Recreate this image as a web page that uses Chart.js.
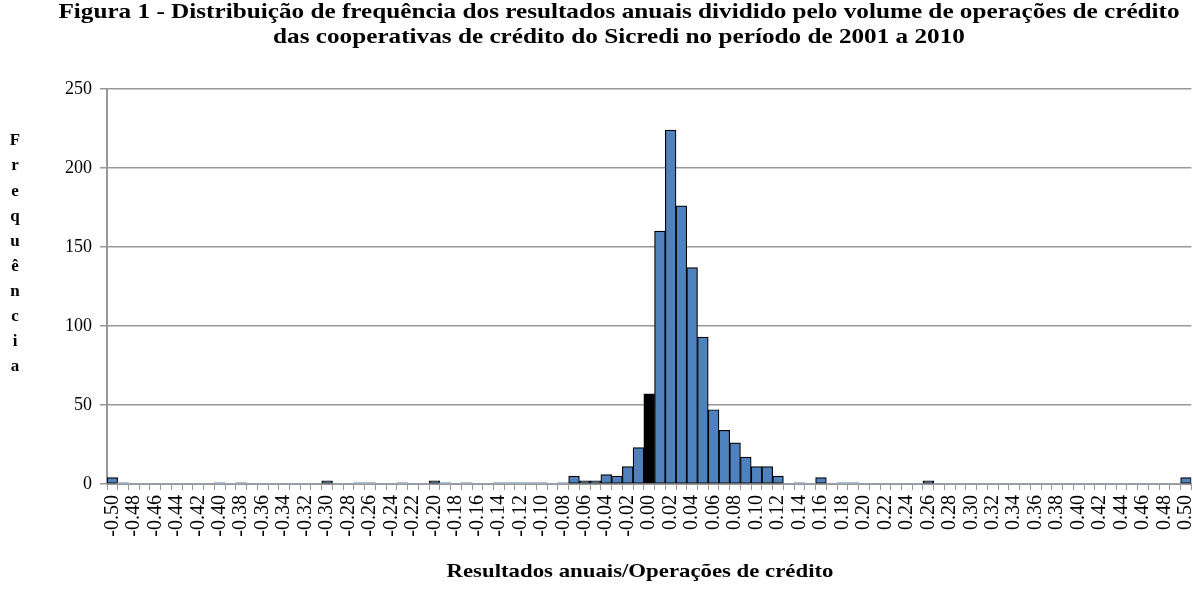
<!DOCTYPE html>
<html>
<head>
<meta charset="utf-8">
<title>Figura 1</title>
<script src="https://cdn.jsdelivr.net/npm/chart.js@4"></script>
<style>
  html, body { margin: 0; padding: 0; background: #fff; overflow: hidden; }
  #wrap { width: 1215px; height: 602px; }
</style>
</head>
<body>
<div id="wrap"><canvas id="hist"></canvas></div>
<script>
const titleLines = [
  'Figura 1 - Distribuição de frequência dos resultados anuais dividido pelo volume de operações de crédito',
  'das cooperativas de crédito do Sicredi no período de 2001 a 2010'
];
const xTitle = 'Resultados anuais/Operações de crédito';
const yTitle = 'Frequência';

// class centres (resultado / operações de crédito)
const classes = [
  '-0.50', '-0.49', '-0.48', '-0.47', '-0.46', '-0.45', '-0.44', '-0.43', '-0.42', '-0.41',
  '-0.40', '-0.39', '-0.38', '-0.37', '-0.36', '-0.35', '-0.34', '-0.33', '-0.32', '-0.31',
  '-0.30', '-0.29', '-0.28', '-0.27', '-0.26', '-0.25', '-0.24', '-0.23', '-0.22', '-0.21',
  '-0.20', '-0.19', '-0.18', '-0.17', '-0.16', '-0.15', '-0.14', '-0.13', '-0.12', '-0.11',
  '-0.10', '-0.09', '-0.08', '-0.07', '-0.06', '-0.05', '-0.04', '-0.03', '-0.02', '-0.01',
  '0.00', '0.01', '0.02', '0.03', '0.04', '0.05', '0.06', '0.07', '0.08', '0.09',
  '0.10', '0.11', '0.12', '0.13', '0.14', '0.15', '0.16', '0.17', '0.18', '0.19',
  '0.20', '0.21', '0.22', '0.23', '0.24', '0.25', '0.26', '0.27', '0.28', '0.29',
  '0.30', '0.31', '0.32', '0.33', '0.34', '0.35', '0.36', '0.37', '0.38', '0.39',
  '0.40', '0.41', '0.42', '0.43', '0.44', '0.45', '0.46', '0.47', '0.48', '0.49',
  '0.50'
];

const frequencia = [
  4, 1, 0, 0, 0, 0, 0, 0, 0, 0,
  1, 0, 1, 0, 0, 0, 0, 0, 0, 0,
  2, 0, 0, 1, 1, 0, 0, 1, 0, 0,
  2, 1, 0, 1, 0, 0, 1, 1, 1, 1,
  1, 0, 1, 5, 2, 2, 6, 5, 11, 23,
  57, 160, 224, 176, 137, 93, 47, 34, 26, 17,
  11, 11, 5, 0, 1, 0, 4, 0, 1, 1,
  0, 0, 0, 0, 0, 0, 2, 0, 0, 0,
  0, 0, 0, 0, 0, 0, 0, 0, 0, 0,
  0, 0, 0, 0, 0, 0, 0, 0, 0, 0,
  4
];

const yTicks = [0, 50, 100, 150, 200, 250];

const highlightClass = '0.00';

const barBlue = '#4f81bd';
const faintBlue = '#a9bedb';
const gridGray = '#989898';
const serif = '"Liberation Serif", "Times New Roman", serif';

// title, x-axis caption and the stacked y-axis label, drawn on the canvas
// (the source figure is a bit wider than tall, hence the x stretch)
const figureText = {
  id: 'figureText',
  afterDraw(chart) {
    const ctx = chart.ctx;
    ctx.save();
    ctx.fillStyle = '#000';
    ctx.textAlign = 'center';
    ctx.textBaseline = 'middle';

    ctx.save();
    ctx.translate(619, 0);
    ctx.scale(1.2, 1);
    ctx.font = 'bold 21px ' + serif;
    ctx.fillText(titleLines[0], 0, 13);
    ctx.fillText(titleLines[1], 0, 38);
    ctx.restore();

    ctx.save();
    ctx.translate(640, 572);
    ctx.scale(1.2, 1);
    ctx.font = 'bold 19px ' + serif;
    ctx.fillText(xTitle, 0, 0);
    ctx.restore();

    ctx.font = 'bold 17px ' + serif;
    Array.from(yTitle).forEach((ch, i) => {
      ctx.fillText(ch, 15, 141 + i * 25.1);
    });
    ctx.restore();
  }
};

const ctx = document.getElementById('hist').getContext('2d');
new Chart(ctx, {
  type: 'bar',
  data: {
    labels: classes,
    datasets: [
      {
        label: yTitle,
        data: frequencia,
        backgroundColor: (c) => {
          if (classes[c.dataIndex] === highlightClass) return '#000';
          return c.raw <= 1 ? faintBlue : barBlue;
        },
        borderColor: '#000',
        borderWidth: (c) => (c.raw <= 1 ? 0 : 1.2),
        borderSkipped: false,
        barPercentage: 1,
        categoryPercentage: 1,
      },
    ],
  },
  options: {
    responsive: true,
    maintainAspectRatio: false,
    animation: false,
    layout: {
      padding: { top: 89, left: 0, right: 0, bottom: 0 },
    },
    plugins: {
      legend: { display: false },
      tooltip: { enabled: false },
    },
    scales: {
      x: {
        offset: true,
        grid: {
          offset: true,
          drawOnChartArea: false,
          color: gridGray,
          tickLength: 6,
        },
        border: { color: gridGray, width: 2 },
        ticks: {
          autoSkip: false,
          minRotation: 90,
          maxRotation: 90,
          padding: 5,
          color: '#000',
          font: { family: serif, size: 20 },
          callback: (val, i) => (i % 2 === 0 ? classes[i] : ''),
        },
        afterFit: (scale) => {
          scale.height = 118;
        },
      },
      y: {
        min: 0,
        max: 250,
        afterBuildTicks: (scale) => {
          scale.ticks = yTicks.map((v) => ({ value: v }));
        },
        grid: {
          color: gridGray,
          lineWidth: 1.5,
          tickLength: 7,
        },
        border: { color: gridGray, width: 2 },
        ticks: {
          padding: 8,
          color: '#000',
          font: { family: serif, size: 18 },
        },
        afterFit: (scale) => {
          scale.width = 107;
        },
      },
    },
  },
  plugins: [figureText],
});
</script>
</body>
</html>
